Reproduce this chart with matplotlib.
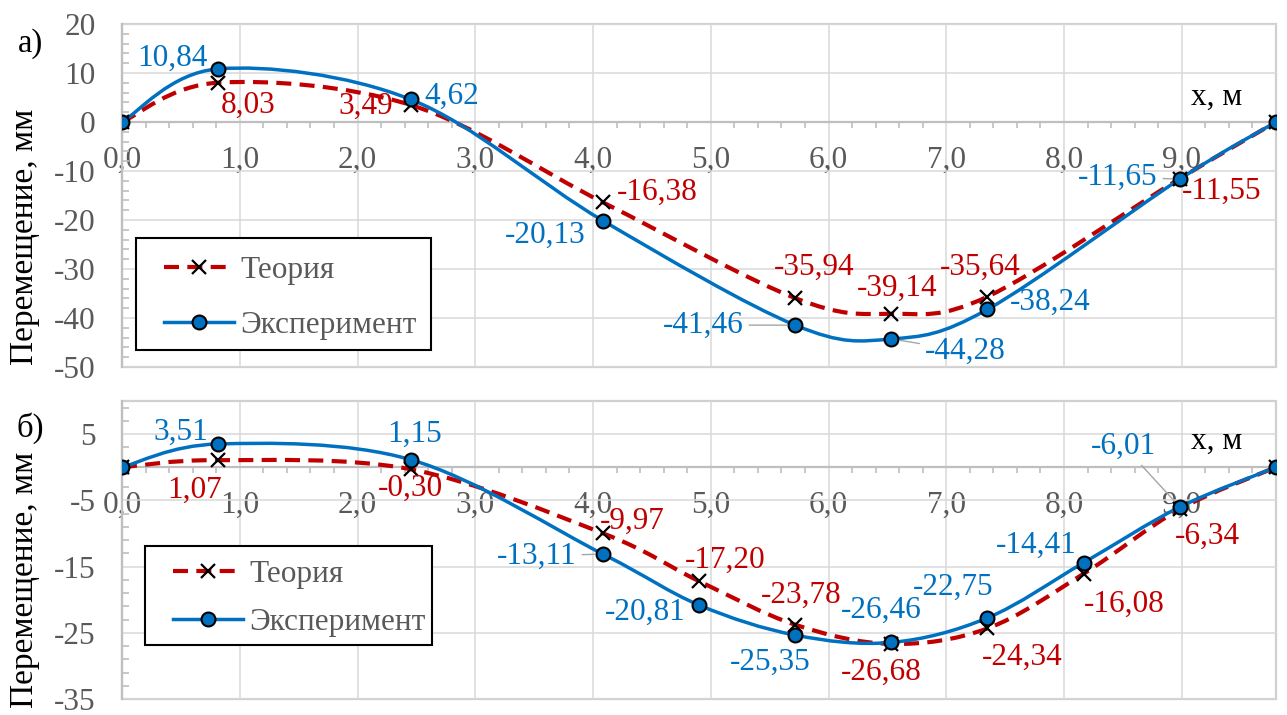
import numpy as np
import matplotlib
matplotlib.use("Agg")
import matplotlib.pyplot as plt
from matplotlib.path import Path
from matplotlib.patches import PathPatch, Rectangle
from matplotlib.lines import Line2D
from matplotlib.ticker import FuncFormatter

plt.rcParams["font.family"] = ["Liberation Serif", "DejaVu Serif"]
plt.rcParams["axes.unicode_minus"] = False

# ---- data ----
x_a = [0, 0.817, 2.45, 4.083, 5.717, 6.533, 7.35, 8.983, 9.8]
theory_a = [0, 8.03, 3.49, -16.38, -35.94, -39.14, -35.64, -11.55, 0]
exp_a = [0, 10.84, 4.62, -20.13, -41.46, -44.28, -38.24, -11.65, 0]

x_b = [0, 0.817, 2.45, 4.083, 4.9, 5.717, 6.533, 7.35, 8.167, 8.983, 9.8]
theory_b = [0, 1.07, -0.30, -9.97, -17.20, -23.78, -26.68, -24.34, -16.08, -6.34, 0]
exp_b = [0, 3.51, 1.15, -13.11, -20.81, -25.35, -26.46, -22.75, -14.41, -6.01, 0]

# label offsets in pixels (dx, dy up) ; None = no label ; third item = leader line
lab_theory_a = [None, (30, -23), (-45, -1), (54, 10), (19, 31), (6, 25), (-7, 29), (42, -13), None]
lab_exp_a = [None, (-46, 11), (41, 3), (-58, -15), (-92, 0, 1), (74, -12, 1), (63, 7), (-62, 2, 1), None]
lab_theory_b = [None, (-24, -30), (0, -19), (29, 12), (26, 21), (6, 29), (-10, -28), (35, -29), (41, -31), (28, -27), None]
lab_exp_b = [None, (-37, 12), (4, 25), (-66, -2, 1), (-54, -7), (-25, -27), (-10, 32), (-34, 31), (-47, 17), (-56, 61, 1), None]

BLUE = "#0070C0"
RED = "#C00000"
TXT = "#595959"
GRID = "#d9d9d9"
AXC = "#bfbfbf"
FS = 22.5
DASH = (0, (3.6, 2.0))


def smooth_path(xs, ys):
    # Excel-like smoothed line: cubic Bezier segments (Catmull-Rom control points)
    p = np.column_stack([xs, ys]).astype(float)
    n = len(p)
    verts = [p[0]]
    codes = [Path.MOVETO]
    for i in range(n - 1):
        p0 = p[i - 1] if i > 0 else p[i]
        p3 = p[i + 2] if i + 2 < n else p[i + 1]
        c1 = p[i] + (p[i + 1] - p0) / 6
        c2 = p[i + 1] - (p3 - p[i]) / 6
        verts += [c1, c2, p[i + 1]]
        codes += [Path.CURVE4] * 3
    return Path(verts, codes)


def fmt_comma(v, d):
    return f"{v:.{d}f}".replace(".", ",")


def label_points(ax, xs, ys, offs, color):
    for x, y, o in zip(xs, ys, offs):
        if o is None:
            continue
        kw = {}
        if len(o) > 2:
            kw["arrowprops"] = dict(arrowstyle="-", color="#a6a6a6", lw=1.0,
                                    shrinkA=2, shrinkB=6)
        ax.annotate(fmt_comma(y, 2), xy=(x, y), xytext=(o[0], o[1]),
                    textcoords="offset pixels", ha="center", va="center",
                    color=color, fontsize=FS, zorder=6, **kw)


def setup(ax, ylim, major, minor):
    ax.set_xlim(0, 9.8)
    ax.set_ylim(*ylim)
    ax.set_xticks(np.arange(0, 9.5, 1.0))
    ax.set_xticks(np.arange(0, 9.81, 0.2), minor=True)
    ax.set_yticks(major)
    ax.set_yticks(minor, minor=True)
    ax.xaxis.set_major_formatter(FuncFormatter(lambda v, p: fmt_comma(v, 1)))
    ax.yaxis.set_major_formatter(FuncFormatter(lambda v, p: f"{v:.0f}"))
    ax.grid(True, which="major", color=GRID, lw=1.1)
    ax.set_axisbelow(True)
    for s in ["top", "right"]:
        ax.spines[s].set_visible(False)
    ax.spines["left"].set_color(AXC)
    ax.spines["left"].set_linewidth(1.6)
    ax.spines["bottom"].set_position(("data", 0))
    ax.spines["bottom"].set_color(AXC)
    ax.spines["bottom"].set_linewidth(1.6)
    ax.add_patch(Rectangle((0, 0), 1, 1, transform=ax.transAxes, fill=False,
                           ec="#d0d0d0", lw=1.6, clip_on=False, zorder=0.5))
    ax.tick_params(axis="x", which="both", length=0, pad=17, labelsize=FS, labelcolor=TXT)
    ax.tick_params(axis="x", which="minor", direction="out", length=4.5, width=1.2, color=AXC)
    ax.tick_params(axis="y", which="both", direction="in", length=5, width=1.2,
                   color=AXC, pad=19, labelsize=FS, labelcolor=TXT)
    ax.tick_params(axis="y", which="major", length=0)


def draw(ax, xs, th, ex):
    ax.add_patch(PathPatch(smooth_path(xs, th), fill=False, ec=RED, lw=3.0,
                           ls=DASH, capstyle="butt", zorder=3))
    ax.add_patch(PathPatch(smooth_path(xs, ex), fill=False, ec=BLUE, lw=2.5,
                           zorder=3.2))
    ax.plot(xs, th, ls="none", marker="x", ms=9.5, mew=1.6, color="black", zorder=4)
    ax.plot(xs, ex, ls="none", marker="o", ms=10, mew=1.5, mfc=BLUE, mec="black", zorder=5)


def legend_box(ax, box_px, ax_px):
    # box_px: (left, top, right, bottom) figure pixels ; ax_px: axes (left, top, w, h)
    l, t, r, b = box_px
    al, at, aw, ah = ax_px
    ax.add_patch(Rectangle(((l - al) / aw, 1 - (b - at) / ah), (r - l) / aw, (b - t) / ah,
                           transform=ax.transAxes, fc="white", ec="black", lw=1.5,
                           zorder=7, clip_on=False))
    handles = [
        Line2D([], [], color=RED, lw=3.0, ls=DASH, marker="x", ms=9.5,
               mew=1.6, mec="black"),
        Line2D([], [], color=BLUE, lw=2.5, marker="o", ms=10, mew=1.5, mfc=BLUE, mec="black"),
    ]
    return handles


W, H = 1287, 715
fig = plt.figure(figsize=(W / 100, H / 100), dpi=100)

ax1_px = (122, 24, 1154, 343)
ax2_px = (122, 401, 1154, 298)
ax1 = fig.add_axes([ax1_px[0] / W, 1 - (ax1_px[1] + ax1_px[3]) / H, ax1_px[2] / W, ax1_px[3] / H])
ax2 = fig.add_axes([ax2_px[0] / W, 1 - (ax2_px[1] + ax2_px[3]) / H, ax2_px[2] / W, ax2_px[3] / H])

setup(ax1, (-50, 20), np.arange(-50, 21, 10), np.arange(-50, 20.1, 2))
setup(ax2, (-35, 10), np.arange(-35, 10, 10), np.arange(-35, 10.1, 2))

draw(ax1, x_a, theory_a, exp_a)
draw(ax2, x_b, theory_b, exp_b)

label_points(ax1, x_a, theory_a, lab_theory_a, RED)
label_points(ax1, x_a, exp_a, lab_exp_a, BLUE)
label_points(ax2, x_b, theory_b, lab_theory_b, RED)
label_points(ax2, x_b, exp_b, lab_exp_b, BLUE)

for ax, box, axp, top, sp in [(ax1, (136, 238, 431, 350), ax1_px, 256, 0.84),
                              (ax2, (145, 546, 432, 645), ax2_px, 560, 0.6)]:
    hs = legend_box(ax, box, axp)
    leg = ax.legend(hs, ["Теория", "Эксперимент"], loc="upper left",
                    bbox_to_anchor=((box[0] + 28 - axp[0]) / axp[2], 1 - (top - axp[1]) / axp[3]),
                    frameon=False, fontsize=FS, handlelength=2.25, handletextpad=0.2,
                    borderpad=0, borderaxespad=0, labelspacing=sp, labelcolor=TXT)
    leg.set_zorder(8)

ax1.text(9.3, 5.1, "x, м", fontsize=FS, ha="center", va="center", color="black")
ax2.text(9.3, 3.9, "x, м", fontsize=FS, ha="center", va="center", color="black")

fig.text(30 / W, 1 - 44 / H, "а)", fontsize=FS + 1, ha="center", va="center")
fig.text(30 / W, 1 - 428 / H, "б)", fontsize=FS + 1, ha="center", va="center")
fig.text(25 / W, 1 - 237 / H, "Перемещение, мм", fontsize=24, rotation=90,
         ha="center", va="center")
fig.text(25 / W, 1 - 580 / H, "Перемещение, мм", fontsize=24, rotation=90,
         ha="center", va="center")

fig.savefig("out.png", dpi=100)
